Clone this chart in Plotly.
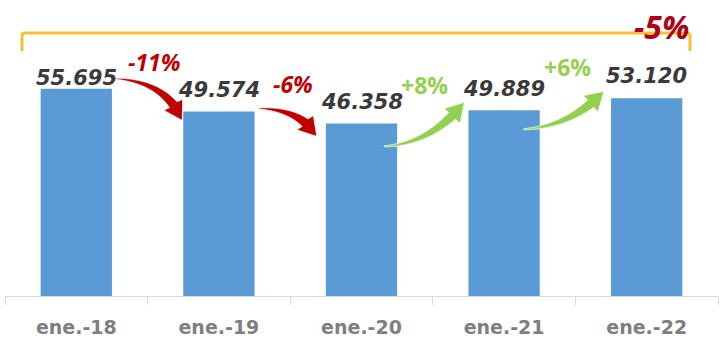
import numpy as np
import plotly.graph_objects as go

# ---------------- data ----------------
categories = ["ene.-18", "ene.-19", "ene.-20", "ene.-21", "ene.-22"]
values = [55695, 49574, 46358, 49889, 53120]

# ---------------- layout constants ----------------
W, H = 724, 341
ML, MR, MT, MB = 5, 6, 0, 45
PW, PH = W - ML - MR, H - MT - MB
XMIN, XMAX = -0.5, len(categories) - 0.5
YMAX = 79500
BARW = 0.5

BAR_COLOR = "#5b9bd5"
RED = "#c00000"
GREEN = "#92d050"
GOLD = "#f2c230"


def x2px(x):
    return ML + (x - XMIN) / (XMAX - XMIN) * PW


def y2px(y):
    return MT + PH * (1 - y / YMAX)


def px2x(px):
    return XMIN + (px - ML) / PW * (XMAX - XMIN)


def px2y(py):
    return YMAX * (1 - (py - MT) / PH)


def fmt_val(v):
    return f"{v:,}".replace(",", ".")


def pct(a, b):
    p = round((b / a - 1) * 100)
    return f"{'+' if p > 0 else ''}{p}%"


def to_path(pts):
    s = "M " + " L ".join(f"{px2x(px):.5f},{px2y(py):.2f}" for px, py in pts) + " Z"
    return s


def arrow_pts(p0, c, tip, w0, w1, head_len, head_hw):
    p0, c, tip = map(np.array, (p0, c, tip))
    ts = np.linspace(0, 1, 200)
    pts = np.array([(1 - t) ** 2 * p0 + 2 * (1 - t) * t * c + t ** 2 * tip for t in ts])
    d = np.linalg.norm(pts - tip, axis=1)
    idx = np.where(d >= head_len)[0][-1]
    shaft = pts[: idx + 1]
    n = len(shaft)
    left, right = [], []
    for i in range(n):
        if i < n - 1:
            tan = shaft[i + 1] - shaft[i]
        else:
            tan = shaft[i] - shaft[i - 1]
        tan = tan / np.linalg.norm(tan)
        nor = np.array([-tan[1], tan[0]])
        w = w0 + (w1 - w0) * i / (n - 1)
        left.append(shaft[i] + nor * w / 2)
        right.append(shaft[i] - nor * w / 2)
    B = shaft[-1]
    dirv = (tip - B) / np.linalg.norm(tip - B)
    nor = np.array([-dirv[1], dirv[0]])
    out = left + [B + nor * head_hw, tip, B - nor * head_hw] + right[::-1]
    return [tuple(p) for p in out]


xs = list(range(len(categories)))
fig = go.Figure()
fig.add_trace(go.Bar(x=xs, y=values, width=BARW, marker_color=BAR_COLOR,
                     marker_line_width=0, hoverinfo="skip"))

shapes = []
annotations = []

# value labels
label_shift = [11, 21, 21, 21, 22]
for i, v in enumerate(values):
    annotations.append(dict(
        x=i, y=v, xref="x", yref="y", text=f"<b><i>{fmt_val(v)}</i></b>",
        showarrow=False, yanchor="middle", yshift=label_shift[i],
        font=dict(family="DejaVu Sans", size=21, color="#3a3a3a")))

# arrows between consecutive bars (pixel offsets relative to bar corners)
arrow_specs = [
    # (start dx from right edge, start dy from top, tip dx from next left, tip dy from next top, ctrl dx from tip, ctrl dy from start)
    (3, -10, -1, 9, -16, 3),
    (4, -3, -9, 13, -16, 1),
    (-13, 23, -4, -8, -33, -3),
    (-16, 19, -7, -7, -33, -3),
]
for i, (sdx, sdy, tdx, tdy, cdx, cdy) in enumerate(arrow_specs):
    a, b = values[i], values[i + 1]
    sx = x2px(i + BARW / 2) + sdx
    sy = y2px(a) + sdy
    tx = x2px(i + 1 - BARW / 2) + tdx
    ty = y2px(b) + tdy
    cx, cy = tx + cdx, sy + cdy
    col = GREEN if b > a else RED
    pts = arrow_pts((sx, sy), (cx, cy), (tx, ty), 1.0, 9.5, 18, 11)
    shapes.append(dict(type="path", xref="x", yref="y", path=to_path(pts),
                       fillcolor=col, line=dict(color="white", width=0.8), layer="above"))

# percentage labels
pct_pos = [(0.045, 27), (0.02, 27), (-0.055, 25), (-0.052, 31)]
for i, (dx, dy) in enumerate(pct_pos):
    a, b = values[i], values[i + 1]
    up = b > a
    txt = pct(a, b)
    annotations.append(dict(
        x=i + 0.5 + dx, y=max(a, b) if up else a, xref="x", yref="y",
        text=f"<b>{txt}</b>" if up else f"<b><i>{txt}</i></b>",
        showarrow=False, yanchor="middle", yshift=dy,
        font=dict(family="Open Sans", size=23, color=GREEN if up else RED)))

# overall bracket
bx0, bx1 = x2px(-0.5) + 17, x2px(4.5) - 28
by_top, by_end = 33, 51
bpath = (f"M {px2x(bx0):.5f},{px2y(by_end):.1f} L {px2x(bx0):.5f},{px2y(by_top + 3):.1f} "
         f"Q {px2x(bx0):.5f},{px2y(by_top):.1f} {px2x(bx0 + 3):.5f},{px2y(by_top):.1f} "
         f"L {px2x(bx1 - 3):.5f},{px2y(by_top):.1f} "
         f"Q {px2x(bx1):.5f},{px2y(by_top):.1f} {px2x(bx1):.5f},{px2y(by_top + 3):.1f} "
         f"L {px2x(bx1):.5f},{px2y(by_end):.1f}")
shapes.append(dict(type="path", xref="x", yref="y", path=bpath,
                   line=dict(color=GOLD, width=3), layer="above"))
annotations.append(dict(
    x=4.5, y=1.0, xref="x", yref="paper", xanchor="right", yanchor="top",
    xshift=-27, yshift=-3,
    text=f"<b><i>{pct(values[0], values[-1])}</i></b>", showarrow=False,
    font=dict(family="Open Sans", size=32, color="#b00018")))

fig.update_layout(
    width=W, height=H, margin=dict(l=ML, r=MR, t=MT, b=MB),
    paper_bgcolor="white", plot_bgcolor="white", showlegend=False,
    shapes=shapes, annotations=annotations,
    xaxis=dict(range=[XMIN, XMAX], tickmode="array", tickvals=xs, ticktext=categories,
               showgrid=False, zeroline=False, showline=True, linecolor="#d9d9d9", linewidth=1,
               ticks="outside", ticklen=8, tickcolor="rgba(0,0,0,0)",
               ticklabelstandoff=6,
               tickfont=dict(family="DejaVu Sans", size=19, color="#7f7f7f", weight="bold"),
               minor=dict(tickmode="array", tickvals=[k - 0.5 for k in range(len(categories) + 1)],
                          ticks="outside", ticklen=8, tickcolor="#d9d9d9", tickwidth=1,
                          showgrid=False)),
    yaxis=dict(range=[0, YMAX], visible=False, showgrid=False, zeroline=False),
)

fig.write_html("out.html")
